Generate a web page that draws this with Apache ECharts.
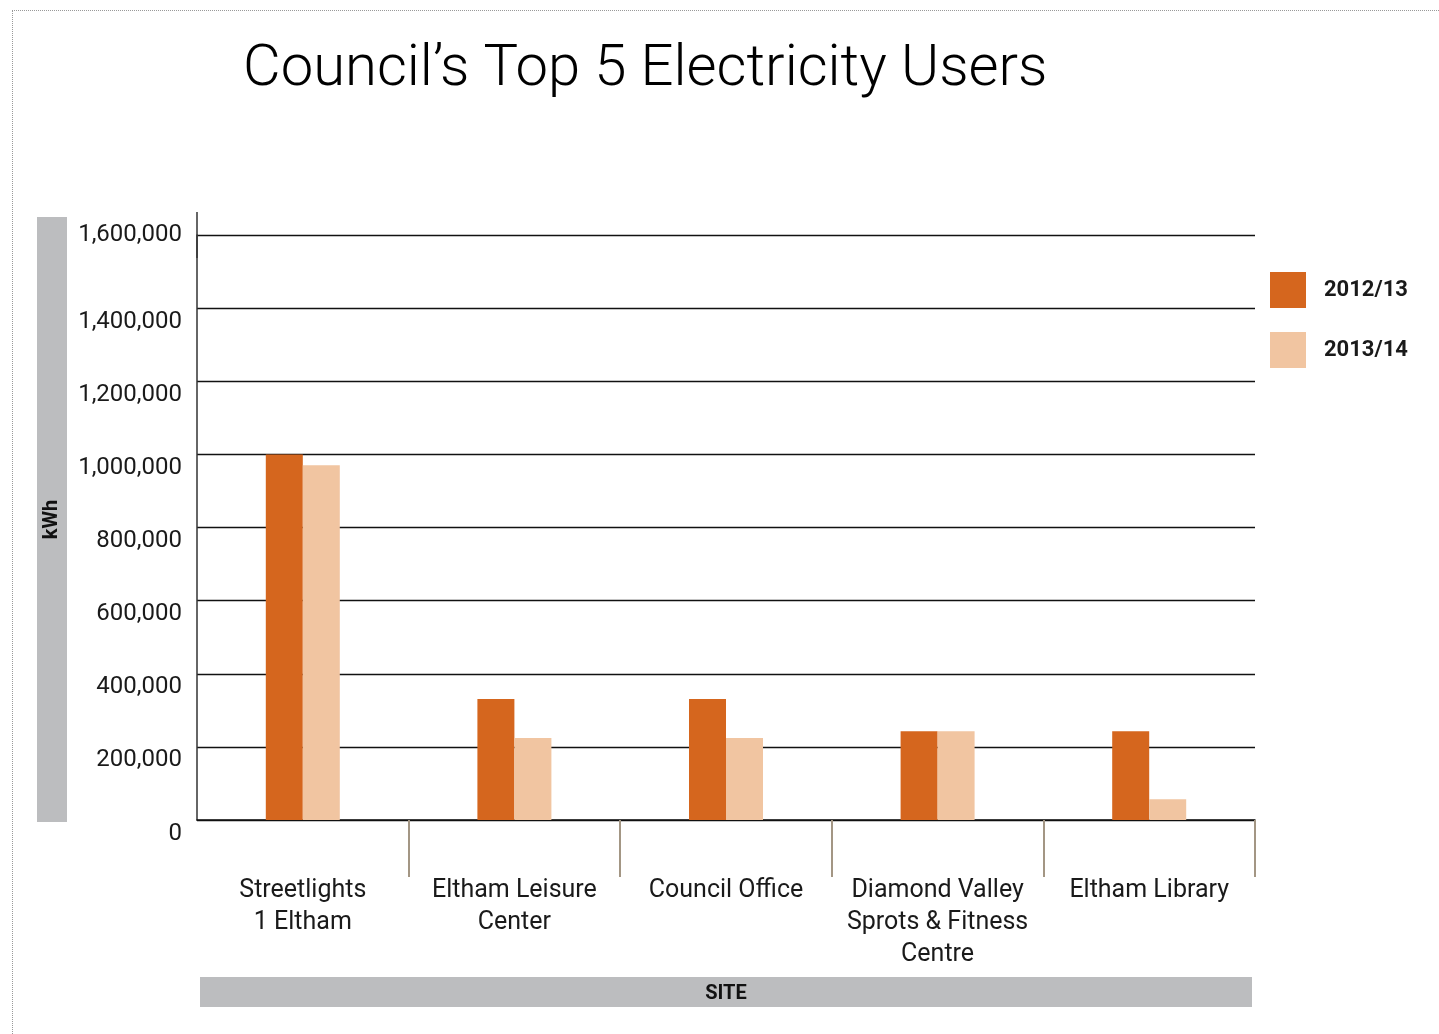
<!DOCTYPE html>
<html>
<head>
<meta charset="utf-8">
<script src="https://cdn.jsdelivr.net/npm/echarts@6/dist/echarts.min.js"></script>
<style>
  html, body { margin: 0; padding: 0; background: #fff; }
  #main { width: 1439px; height: 1034px; }
  #frame { position: absolute; left: 12px; top: 10px; right: 0; bottom: 0;
           border-left: 1px dotted #999; border-top: 1px dotted #999; pointer-events: none; }
</style>
</head>
<body>
<div id="main"></div>
<div id="frame"></div>
<script>
var sites = ['Streetlights\n1 Eltham', 'Eltham Leisure\nCenter', 'Council Office',
    'Diamond Valley\nSprots & Fitness\nCentre', 'Eltham Library'];
var years = ['2012/13', '2013/14'];
var use1213 = [1000000, 331000, 331000, 243000, 243000];
var use1314 = [970000, 224000, 224000, 243000, 57000];
var yMax = 1600000;
var yStep = 200000;

var chart = echarts.init(document.getElementById('main'));

// grey band behind the axis names
var band = { fontSize: 20, fontWeight: 'bold', color: '#111', backgroundColor: '#BCBDBF',
    height: 30, lineHeight: 30, align: 'center', verticalAlign: 'middle' };

function fmt(v) { return v.toLocaleString('en-US'); }

var option = {
    backgroundColor: '#fff',
    color: ['#D5661E', '#F1C5A1'],
    textStyle: { fontFamily: 'Roboto' },
    title: {
        text: 'Council\u2019s Top 5 Electricity Users',
        left: 238,
        top: 36,
        textStyle: { fontSize: 58, fontWeight: 300, color: '#000', fontFamily: 'Roboto' }
    },
    legend: {
        data: years,
        orient: 'vertical',
        left: 1270,
        top: 272,
        padding: 0,
        icon: 'rect',
        itemWidth: 36,
        itemHeight: 36,
        itemGap: 24,
        textStyle: { fontSize: 22, fontWeight: 'bold', color: '#1a1a1a', padding: [6, 0, 0, 13] }
    },
    grid: { left: 197, right: 184, top: 235, bottom: 214 },
    xAxis: {
        type: 'category',
        data: sites,
        name: '{b|SITE}',
        nameLocation: 'middle',
        nameGap: 157,
        nameTextStyle: {
            rich: { b: Object.assign({}, band, { width: 1052, height: 27, padding: [3, 0, 0, 0] }) }
        },
        axisLine: { lineStyle: { color: '#111', width: 1.5 } },
        axisTick: {
            show: true, length: 57,
            interval: function (idx) { return idx > 0; },
            lineStyle: { color: '#A39684', width: 2 }
        },
        axisLabel: {
            interval: 0, margin: 55, fontSize: 25, lineHeight: 32, color: '#1a1a1a'
        }
    },
    yAxis: [{
        type: 'value',
        min: 0,
        max: yMax,
        interval: yStep,
        name: '{s|}{b|kWh}',
        nameLocation: 'middle',
        nameRotate: 90,
        nameGap: 130,
        nameTextStyle: {
            rich: { s: { width: 16, height: 30 }, b: Object.assign({ width: 605 }, band) }
        },
        axisLine: {
            show: true,
            symbol: ['none', 'rect'],
            symbolSize: [1.5, 46],
            lineStyle: { color: '#333', width: 1.5 }
        },
        axisTick: { show: false },
        splitLine: { lineStyle: { color: '#111', width: 1.3 } },
        axisLabel: {
            margin: 15, fontSize: 24, color: '#1a1a1a', verticalAlign: 'top', lineHeight: 27,
            formatter: function (v) { return v === yMax ? '' : fmt(v); }
        }
    }, {
        // top label sits on its gridline rather than under it
        type: 'value',
        position: 'left',
        min: 0,
        max: yMax,
        interval: yStep,
        axisLine: { show: false },
        axisTick: { show: false },
        splitLine: { show: false },
        axisLabel: {
            margin: 15, fontSize: 24, color: '#1a1a1a', padding: [0, 0, 4, 0],
            formatter: function (v) { return v === yMax ? fmt(v) : ''; }
        }
    }],
    series: [{
        name: years[0],
        type: 'bar',
        barWidth: 37,
        barGap: '0%',
        data: use1213
    }, {
        name: years[1],
        type: 'bar',
        barWidth: 37,
        data: use1314
    }]
};

chart.setOption(option);
</script>
</body>
</html>
